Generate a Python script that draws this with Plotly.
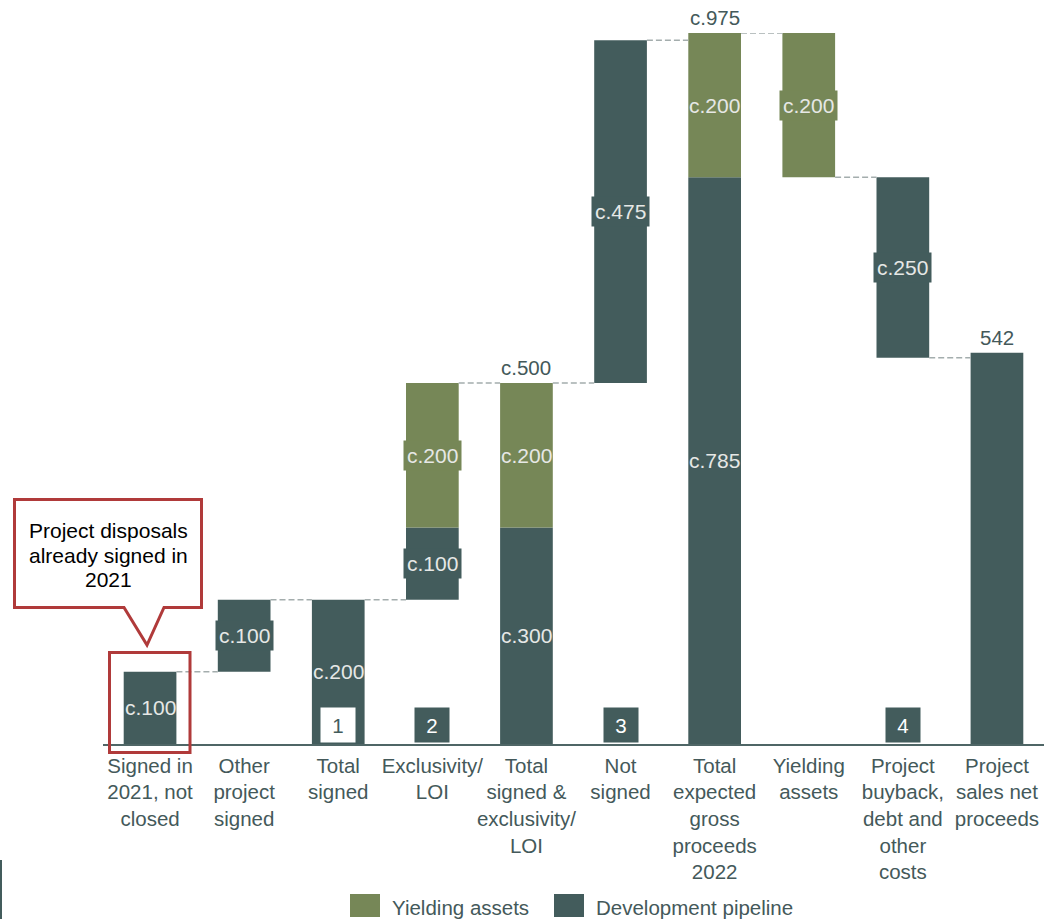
import plotly.graph_objects as go

# ---- data -------------------------------------------------------------
categories = [
    "Signed in<br>2021, not<br>closed",
    "Other<br>project<br>signed",
    "Total<br>signed",
    "Exclusivity/<br>LOI",
    "Total<br>signed &<br>exclusivity/<br>LOI",
    "Not<br>signed",
    "Total<br>expected<br>gross<br>proceeds<br>2022",
    "Yielding<br>assets",
    "Project<br>buyback,<br>debt and<br>other<br>costs",
    "Project<br>sales net<br>proceeds",
]

# Development pipeline segments (base, height); None = no segment
dev_base = [0, 100, 0, 200, 0, 500, 0, None, 535, 0]
dev_value = [100, 100, 200, 100, 300, 475, 785, None, 250, 542]
dev_labels = ["c.100", "c.100", "c.200", "c.100", "c.300", "c.475", "c.785", None, "c.250", None]

# Yielding assets segments
yield_base = [None, None, None, 300, 300, None, 785, 785, None, None]
yield_value = [None, None, None, 200, 200, None, 200, 200, None, None]
yield_labels = [None, None, None, "c.200", "c.200", None, "c.200", "c.200", None, None]

# floating (bridge) segments get a label box in the bar colour
floating = [False, True, False, True, False, True, False, True, True, False]

# totals written above bars
total_index = [4, 6, 9]
total_text = ["c.500", "c.975", "542"]

# numbered markers at the foot of some columns
marker_index = [2, 3, 5, 8]
marker_text = ["1", "2", "3", "4"]

# ---- style -------------------------------------------------------------
DEV = "#435c5c"
YLD = "#768757"
TXT = "#44595a"
LBL = "#e6e8e6"
RED = "#b03a3a"
FONT = "Arial, Liberation Sans, sans-serif"
FS = 20.5
FS_VAL = 21
BAR_W = 0.56

W, H = 1044, 919
ML, MR, MT, MB = 103, 0, 33, 175


def px_x(px):
    return (px - ML) / (W - ML - MR)


def px_y(py):
    return (H - MB - py) / (H - MT - MB)


idx = list(range(len(categories)))

fig = go.Figure()
fig.add_trace(go.Bar(
    x=idx, y=dev_value, base=dev_base, width=BAR_W,
    marker=dict(color=DEV, line=dict(width=0)), name="Development pipeline",
    hoverinfo="skip",
))
fig.add_trace(go.Bar(
    x=idx, y=yield_value, base=yield_base, width=BAR_W,
    marker=dict(color=YLD, line=dict(width=0)), name="Yielding assets",
    hoverinfo="skip",
))

shapes = []
annotations = []

# dashed bridge connectors: level where each column ends
ends = []
for i in idx:
    if i in (7, 8):  # decreasing steps end at their base
        b = dev_base[i] if dev_base[i] is not None else yield_base[i]
        ends.append(b)
    else:
        top = 0
        if dev_value[i] is not None:
            top = max(top, dev_base[i] + dev_value[i])
        if yield_value[i] is not None:
            top = max(top, yield_base[i] + yield_value[i])
        ends.append(top)

for i in idx[:-1]:
    shapes.append(dict(
        type="line", xref="x", yref="y",
        x0=i + BAR_W / 2, x1=i + 1 - BAR_W / 2, y0=ends[i], y1=ends[i],
        line=dict(color="#a4adad", width=1.5, dash="6px,3px"),
        layer="above",
    ))

# value labels inside segments
def seg_label(i, base, value, text, color):
    if text is None:
        return
    box = floating[i]
    annotations.append(dict(
        x=i, y=base + value / 2, xref="x", yref="y",
        text=text, showarrow=False,
        font=dict(family=FONT, size=FS_VAL, color=LBL),
        bgcolor=color if box else None, borderpad=3,
    ))

for i in idx:
    if dev_value[i] is not None:
        seg_label(i, dev_base[i], dev_value[i], dev_labels[i], DEV)
    if yield_value[i] is not None:
        seg_label(i, yield_base[i], yield_value[i], yield_labels[i], YLD)

# totals above columns
for i, t in zip(total_index, total_text):
    annotations.append(dict(
        x=i, y=ends[i], xref="x", yref="y", yanchor="bottom",
        text=t, showarrow=False, yshift=2,
        font=dict(family=FONT, size=FS, color=TXT),
    ))

# numbered markers
for i, t in zip(marker_index, marker_text):
    on_bar = dev_base[i] == 0
    annotations.append(dict(
        x=i, y=0, xref="x", yref="y", yanchor="bottom", yshift=1,
        text=t, showarrow=False, width=34, height=34, borderpad=0,
        bgcolor="white" if on_bar else DEV,
        font=dict(family=FONT, size=FS, color=DEV if on_bar else "white"),
    ))

# call-out around the first column
shapes.append(dict(
    type="rect", xref="paper", yref="paper",
    x0=px_x(109.5), x1=px_x(190), y0=px_y(652.5), y1=px_y(752.5),
    line=dict(color=RED, width=3), fillcolor="rgba(0,0,0,0)", layer="above",
))
pts = [(14.5, 499.5), (201.5, 499.5), (201.5, 607.5), (164, 607.5),
       (147, 645), (124, 607.5), (14.5, 607.5)]
path = "M " + " L ".join(f"{px_x(a):.5f},{px_y(b):.5f}" for a, b in pts) + " Z"
shapes.append(dict(
    type="path", xref="paper", yref="paper", path=path,
    line=dict(color=RED, width=3), fillcolor="white", layer="above",
))
for line, py in zip(["Project disposals", "already signed in", "2021"], [530, 555, 579]):
    annotations.append(dict(
        x=px_x(108), y=px_y(py), xref="paper", yref="paper",
        xanchor="center", yanchor="middle",
        text=line, showarrow=False,
        font=dict(family=FONT, size=21, color="black"),
    ))

# legend
legend_items = [("Yielding assets", YLD, 350), ("Development pipeline", DEV, 554)]
for name, color, lx in legend_items:
    shapes.append(dict(
        type="rect", xref="paper", yref="paper",
        x0=px_x(lx), x1=px_x(lx + 30), y0=px_y(894), y1=px_y(917),
        line=dict(width=0), fillcolor=color,
    ))
    annotations.append(dict(
        x=px_x(lx + 40), y=px_y(907), xref="paper", yref="paper",
        xanchor="left", yanchor="middle", text=name, showarrow=False,
        font=dict(family=FONT, size=FS, color=TXT),
    ))

# slim rule at the lower-left edge
shapes.append(dict(
    type="line", xref="paper", yref="paper",
    x0=px_x(1), x1=px_x(1), y0=px_y(860), y1=px_y(919),
    line=dict(color=DEV, width=2),
))

fig.update_layout(
    width=W, height=H,
    margin=dict(l=ML, r=MR, t=MT, b=MB),
    paper_bgcolor="white", plot_bgcolor="white",
    barmode="overlay", showlegend=False,
    shapes=shapes, annotations=annotations,
    font=dict(family=FONT, size=FS, color=TXT),
    xaxis=dict(
        tickmode="array", tickvals=idx, ticktext=categories,
        range=[-0.5, 9.5], showgrid=False, zeroline=False,
        showline=True, linecolor="#4f6666", linewidth=2,
        ticks="", tickangle=0, ticklabelstandoff=2,
        tickfont=dict(family=FONT, size=FS, color=TXT),
        fixedrange=True,
    ),
    yaxis=dict(range=[0, 985], visible=False, fixedrange=True),
)

fig.write_html("out.html")
